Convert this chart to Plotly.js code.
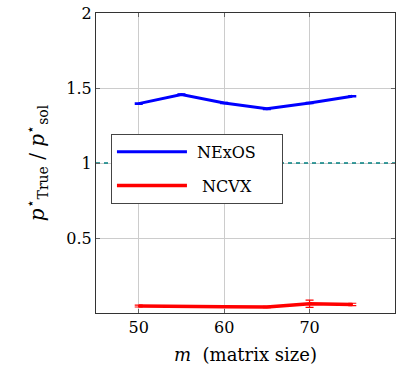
<!DOCTYPE html>
<html><head><meta charset="utf-8">
<script src="https://cdn.plot.ly/plotly-3.0.1.min.js"></script>
<style>html,body{margin:0;padding:0;background:#fff}</style>
</head><body>
<div id="chart" style="width:404px;height:378px"></div>
<script>
const mValues = [50, 55, 60, 65, 70, 75];
const nexosRatio = [1.396, 1.456, 1.400, 1.361, 1.400, 1.445];
const nexosErr = [0.004, 0.004, 0.004, 0.004, 0.004, 0.004];
const ncvxRatio = [0.046, 0.046, 0.041, 0.040, 0.062, 0.057];
const ncvxErr = [0.006, 0.004, 0.004, 0.004, 0.024, 0.008];
const refX = [45, 80];
const refY = [1, 1];
const xTicks = [50, 60, 70, 80];
const yTicks = [0.5, 1, 1.5, 2];
const yTickText = ['0.5', '1', '1.5', '2'];
const seriesNames = ['NExOS', 'NCVX'];

const font = 'DejaVu Serif';
const pad = '\u00a0\u00a0\u00a0\u00a0';
const traces = [
  {x: refX, y: refY, mode: 'lines', line: {color: '#008080', width: 1.3, dash: '4px,4px'}, showlegend: false, hoverinfo: 'skip'},
  {x: mValues, y: nexosRatio, name: '\u00a0' + seriesNames[0] + pad, legendgroup: 'a', mode: 'lines', line: {color: '#0000ff', width: 3},
   error_y: {type: 'data', array: nexosErr, visible: true, color: '#0000ff', thickness: 1.5, width: 4}},
  {x: mValues, y: ncvxRatio, name: '\u00a0\u00a0' + seriesNames[1], legendgroup: 'b', mode: 'lines', line: {color: '#ff0000', width: 3.5},
   error_y: {type: 'data', array: ncvxErr, visible: true, color: '#ff0000', thickness: 1.2, width: 4}}
];
const layout = {
  width: 404, height: 378,
  margin: {l: 96, r: 9, t: 13, b: 65},
  paper_bgcolor: '#fff', plot_bgcolor: '#fff',
  font: {family: font, size: 16, color: '#000'},
  showlegend: true,
  legend: {x: 0.05, y: 0.597, xanchor: 'left', yanchor: 'top', bgcolor: '#fff', bordercolor: '#444', borderwidth: 1,
           font: {family: font, size: 16}, itemwidth: 70, tracegroupgap: 10, traceorder: 'grouped'},
  xaxis: {range: [45, 80], tickvals: xTicks, ticktext: xTicks.map(String), showgrid: true, gridcolor: '#cccccc', gridwidth: 1,
          zeroline: false, showline: true, linecolor: '#333', linewidth: 1, mirror: 'ticks', ticks: 'inside', ticklen: 4, tickcolor: '#666',
          tickfont: {family: font, size: 16}, title: {text: '<i>m</i>\u00a0\u00a0(matrix size)', font: {family: font, size: 18}, standoff: 12}},
  yaxis: {range: [0, 2], tickvals: yTicks, ticktext: yTickText, showgrid: true, gridcolor: '#cccccc', gridwidth: 1,
          zeroline: false, showline: true, linecolor: '#333', linewidth: 1, mirror: 'ticks', ticks: 'inside', ticklen: 4, tickcolor: '#666',
          tickfont: {family: font, size: 16},
          title: {text: '<i>p</i><sup>⋆</sup><sub>True</sub> / <i>p</i><sup>⋆</sup><sub>sol</sub>', font: {family: font, size: 20}, standoff: 16}}
};
Plotly.newPlot('chart', traces, layout, {displayModeBar: false, staticPlot: true});
</script>
</body></html>
